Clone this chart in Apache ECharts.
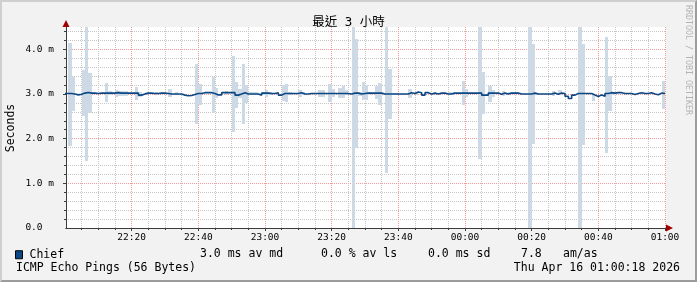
<!DOCTYPE html>
<html><head><meta charset="utf-8">
<script src="https://cdn.jsdelivr.net/npm/echarts@6/dist/echarts.min.js"></script>
<style>
html,body{margin:0;padding:0;background:#f2f2f2;}
#wrap{position:relative;width:697px;height:282px;background:#f2f2f2;}
#plotbg{position:absolute;left:66px;top:27px;width:600px;height:201px;background:#ffffff;}
#chart{position:absolute;left:0;top:0;width:697px;height:282px;}
#frame{position:absolute;left:0;top:0;width:697px;height:282px;box-sizing:border-box;border-top:2px solid #cfcfcf;border-left:2px solid #cfcfcf;border-bottom:2px solid #9c9c9c;border-right:2px solid #9c9c9c;pointer-events:none;}
</style></head><body>
<div id="wrap"><div id="plotbg"></div><div id="chart"></div><div id="frame"></div></div>
<script>
// time in minutes after 22:00
const startMin = 0.3, endMin = 180.3;
const xMajorTicks = [20, 40, 60, 80, 100, 120, 140, 160, 180];
const xMajorLabels = ['22:20', '22:40', '23:00', '23:20', '23:40', '00:00', '00:20', '00:40', '01:00'];
const xMinorTicks = [5, 10, 15, 25, 30, 35, 45, 50, 55, 65, 70, 75, 85, 90, 95, 105, 110, 115, 125, 130, 135, 145, 150, 155, 165, 170, 175];
const yMajorTicks = [0, 1, 2, 3, 4];
const yMajorLabels = ['0.0  ', '1.0 m', '2.0 m', '3.0 m', '4.0 m'];
const yMinorTicks = [0.2, 0.4, 0.6, 0.8, 1.2, 1.4, 1.6, 1.8, 2.2, 2.4, 2.6, 2.8, 3.2, 3.4, 3.6, 3.8, 4.2, 4.4];
const yMax = 4.5;

// median RTT per minute (ms), minute 0 = 22:00
const median = [
  3.01, 3.01, 3.00, 2.98, 2.995, 3.02, 3.035, 3.02, 3.02, 3.01,
  3.02, 3.02, 3.02, 3.02, 3.02, 3.03, 3.02, 3.02, 3.02, 3.02,
  3.02, 3.02, 2.975, 3.00, 3.02, 3.02, 3.01, 3.01, 3.02, 3.02,
  3.01, 3.00, 3.00, 3.00, 3.00, 2.975, 2.96, 2.965, 2.99, 3.01,
  3.01, 3.03, 3.03, 3.03, 3.01, 2.98, 2.98, 3.03, 3.03, 3.03,
  3.03, 2.975, 3.00, 3.03, 3.00, 3.00, 3.00, 3.00, 2.975, 3.02,
  3.02, 3.01, 3.01, 3.03, 2.975, 3.01, 3.01, 3.01, 3.01, 3.01,
  3.03, 3.00, 3.00, 3.01, 3.01, 3.01, 3.01, 3.01, 3.01, 3.01,
  3.01, 3.01, 3.01, 3.01, 3.01, 3.00, 3.02, 3.02, 3.00, 3.01,
  3.02, 3.02, 3.02, 3.02, 3.02, 3.00, 3.00, 3.00, 3.00, 3.00,
  3.00, 3.00, 3.00, 3.03, 3.01, 3.045, 3.03, 2.975, 3.03, 3.00,
  3.02, 3.00, 3.02, 3.02, 3.00, 3.00, 3.02, 3.02, 3.02, 3.02,
  3.02, 3.02, 3.02, 3.02, 3.02, 2.975, 2.975, 3.02, 3.02, 3.02,
  2.995, 3.02, 3.00, 3.02, 3.02, 3.02, 3.00, 3.00, 3.00, 3.00,
  3.02, 3.00, 3.00, 3.00, 3.00, 3.00, 3.02, 2.995, 3.02, 3.01,
  2.95, 2.90, 2.975, 3.01, 3.01, 3.01, 3.01, 3.01, 2.975, 2.945,
  2.98, 2.95, 3.01, 3.03, 3.02, 3.03, 3.03, 3.01, 3.01, 3.01,
  2.99, 3.01, 3.03, 3.01, 3.01, 3.03, 3.00, 2.985, 3.02, 3.01
];

// smoke: [minute, lowest ping (ms), highest ping (ms)]
const smoke = [
  [1, 1.84, 4.15], [2, 2.61, 3.39], [5, 2.50, 3.54], [6, 1.49, 4.50], [7, 2.58, 3.46],
  [12, 2.81, 3.24], [13, 2.98, 3.06], [15, 2.94, 3.10], [16, 2.96, 3.07], [17, 2.96, 3.07],
  [18, 2.96, 3.07], [21, 2.87, 3.16], [22, 2.93, 3.05], [24, 2.97, 3.05], [27, 2.97, 3.04],
  [31, 2.94, 3.11], [33, 2.97, 3.05], [39, 2.33, 3.67], [40, 2.76, 3.23], [44, 2.58, 3.39],
  [45, 2.90, 3.14], [48, 2.98, 3.06], [50, 2.16, 3.85], [51, 2.69, 3.26], [52, 2.90, 3.11],
  [53, 2.33, 3.67], [54, 2.79, 3.20], [55, 2.98, 3.05], [56, 2.98, 3.05], [57, 2.98, 3.05],
  [59, 2.98, 3.05], [60, 2.93, 3.09], [61, 2.97, 3.04], [65, 2.85, 3.20], [66, 2.82, 3.23],
  [67, 2.97, 3.05], [70, 2.94, 3.09], [71, 2.97, 3.05], [76, 2.93, 3.10], [77, 2.93, 3.10],
  [79, 2.83, 3.22], [80, 2.93, 3.12], [82, 2.90, 3.13], [83, 2.92, 3.18], [84, 2.97, 3.09],
  [86, 0.00, 4.50], [87, 1.79, 4.23], [88, 2.96, 3.05], [89, 2.87, 3.26], [90, 2.86, 3.20],
  [91, 2.98, 3.05], [93, 2.89, 3.17], [94, 2.76, 3.24], [96, 1.24, 4.50], [97, 2.45, 3.55],
  [98, 2.98, 3.03], [99, 2.98, 3.03], [103, 2.92, 3.11], [105, 2.98, 3.05], [115, 2.98, 3.04],
  [116, 2.98, 3.04], [119, 2.76, 3.28], [120, 2.93, 3.11], [124, 1.54, 4.49], [125, 2.55, 3.50],
  [127, 2.82, 3.19], [128, 2.93, 3.09], [131, 2.96, 3.07], [133, 2.99, 3.04], [134, 2.99, 3.04],
  [135, 2.99, 3.04], [139, 0.00, 4.50], [140, 1.88, 4.12], [141, 2.98, 3.03], [146, 2.96, 3.07],
  [148, 2.97, 3.08], [154, 0.00, 4.50], [155, 1.86, 4.12], [158, 2.85, 3.03], [162, 1.69, 4.28],
  [163, 2.61, 3.40], [164, 2.98, 3.05], [179, 2.67, 3.30]
];

const seriesName = 'Chief';
const statTexts = ['3.0 ms av md', '0.0 % av ls', '0.0 ms sd', '7.8', 'am/as'];
const titleText = '最近 3 小時';
const yAxisTitle = 'Seconds';
const footLeft = 'ICMP Echo Pings (56 Bytes)';
const footRight = 'Thu Apr 16 01:00:18 2026';
const watermark = 'RRDTOOL / TOBI OETIKER';

const MONO = "'DejaVu Sans Mono', 'Noto Sans CJK TC', monospace";
const AXIS_COLOR = '#3c3c3c';
const ARROW_COLOR = '#a00000';
const MAJOR_GRID = '#f29a9a';
const MINOR_GRID = '#c6c6c6';
const LINE_COLOR = '#0b4785';
const SMOKE_COLOR = '#cdd9e5';

function labelFor(ticks, labels) {
  return function (v) {
    for (let i = 0; i < ticks.length; i++) if (Math.abs(ticks[i] - v) < 1e-6) return labels[i];
    return '';
  };
}

const lineData = median.map((v, i) => [i, v]);
lineData.push([median.length, median[median.length - 1]]);

const baseX = { type: 'value', min: startMin, max: endMin, position: 'bottom' };
const baseY = { type: 'value', min: 0, max: yMax, position: 'left' };

const chart = echarts.init(document.getElementById('chart'), null, { renderer: 'canvas' });
chart.setOption({
  animation: false,
  backgroundColor: 'transparent',
  title: {
    text: titleText, left: 'center', top: 16, padding: 0,
    textStyle: { fontFamily: MONO, fontSize: 12.5, fontWeight: 'normal', color: '#000' }
  },
  legend: {
    data: [seriesName], left: 15, top: 249, padding: 0,
    icon: 'rect', itemWidth: 7, itemHeight: 8,
    itemStyle: { borderColor: '#000', borderWidth: 1 },
    textStyle: { fontFamily: MONO, fontSize: 11.5, color: '#000', padding: [0, 0, 0, 2] }
  },
  grid: { left: 66, top: 27, width: 600, height: 201, show: false },
  xAxis: [
    Object.assign({}, baseX, {
      axisLine: { show: true, onZero: false, symbol: ['none', 'triangle'], symbolSize: [7, 7], symbolOffset: [0, 3.5], lineStyle: { color: ARROW_COLOR, width: 1 } },
      axisTick: { show: false }, axisLabel: { show: false }, splitLine: { show: false }
    }),
    Object.assign({}, baseX, {
      axisLine: { show: false },
      axisTick: { show: true, customValues: xMinorTicks, length: 2, lineStyle: { color: AXIS_COLOR } },
      axisLabel: { show: false },
      splitLine: { show: true, lineStyle: { color: MINOR_GRID, width: 1, type: [1, 1] } }
    }),
    Object.assign({}, baseX, {
      axisLine: { show: true, onZero: false, lineStyle: { color: AXIS_COLOR, width: 1 } },
      axisTick: { show: true, customValues: xMajorTicks, length: 3, lineStyle: { color: AXIS_COLOR } },
      axisLabel: { show: true, customValues: xMajorTicks, formatter: labelFor(xMajorTicks, xMajorLabels), margin: 5, fontFamily: MONO, fontSize: 9.5, color: '#000' },
      splitLine: { show: true, lineStyle: { color: MAJOR_GRID, width: 1, type: [1, 1] } }
    })
  ],
  yAxis: [
    Object.assign({}, baseY, {
      axisLine: { show: true, onZero: false, symbol: ['none', 'triangle'], symbolSize: [7, 7], symbolOffset: [0, 3.5], lineStyle: { color: ARROW_COLOR, width: 1 } },
      axisTick: { show: false }, axisLabel: { show: false }, splitLine: { show: false }
    }),
    Object.assign({}, baseY, {
      axisLine: { show: false },
      axisTick: { show: true, customValues: yMinorTicks, length: 2, lineStyle: { color: AXIS_COLOR } },
      axisLabel: { show: false },
      splitLine: { show: true, lineStyle: { color: MINOR_GRID, width: 1, type: [1, 1] } }
    }),
    Object.assign({}, baseY, {
      axisLine: { show: true, onZero: false, lineStyle: { color: AXIS_COLOR, width: 1 } },
      axisTick: { show: true, customValues: [1, 2, 3, 4], length: 3, lineStyle: { color: AXIS_COLOR } },
      axisLabel: { show: true, customValues: yMajorTicks, formatter: labelFor(yMajorTicks, yMajorLabels), margin: 12, fontFamily: MONO, fontSize: 9.5, color: '#000' },
      splitLine: { show: true, lineStyle: { color: MAJOR_GRID, width: 1, type: [1, 1] } }
    })
  ],
  series: [
    {
      type: 'custom', name: 'smoke', xAxisIndex: 2, yAxisIndex: 2, clip: true, silent: true,
      data: smoke,
      renderItem: function (params, api) {
        const m = api.value(0), lo = api.value(1), hi = api.value(2);
        const p1 = api.coord([m, hi]);
        const p2 = api.coord([m + 1, lo]);
        const x1 = Math.round(p1[0]), x2 = Math.round(p2[0]);
        const y1 = Math.round(p1[1]), y2 = Math.round(p2[1]);
        const rect = echarts.graphic.clipRectByRect(
          { x: x1, y: y1, width: x2 - x1, height: y2 - y1 },
          { x: params.coordSys.x, y: params.coordSys.y, width: params.coordSys.width, height: params.coordSys.height }
        );
        return rect && { type: 'rect', shape: rect, style: { fill: SMOKE_COLOR } };
      },
      z: 2
    },
    {
      type: 'line', name: seriesName, xAxisIndex: 2, yAxisIndex: 2,
      data: lineData, step: 'end', showSymbol: false, symbol: 'none', clip: true,
      color: LINE_COLOR,
      lineStyle: { color: LINE_COLOR, width: 1.6 },
      z: 3
    }
  ],
  graphic: [
    { type: 'text', x: 11, y: 128, rotation: Math.PI / 2,
      style: { text: yAxisTitle, font: '11.5px ' + MONO, fill: '#000', textAlign: 'center', textVerticalAlign: 'middle' } },
    { type: 'text', x: 688, y: 5, rotation: -Math.PI / 2,
      style: { text: watermark, font: '8.3px ' + MONO, fill: '#b4b4b4', textAlign: 'left', textVerticalAlign: 'middle' } },
    { type: 'text', x: 200, y: 254, style: { text: statTexts[0], font: '11.5px ' + MONO, fill: '#000', textVerticalAlign: 'middle' } },
    { type: 'text', x: 321, y: 254, style: { text: statTexts[1], font: '11.5px ' + MONO, fill: '#000', textVerticalAlign: 'middle' } },
    { type: 'text', x: 428, y: 254, style: { text: statTexts[2], font: '11.5px ' + MONO, fill: '#000', textVerticalAlign: 'middle' } },
    { type: 'text', x: 521, y: 254, style: { text: statTexts[3], font: '11.5px ' + MONO, fill: '#000', textVerticalAlign: 'middle' } },
    { type: 'text', x: 563, y: 254, style: { text: statTexts[4], font: '11.5px ' + MONO, fill: '#000', textVerticalAlign: 'middle' } },
    { type: 'text', x: 16, y: 268, style: { text: footLeft, font: '11.5px ' + MONO, fill: '#000', textVerticalAlign: 'middle' } },
    { type: 'text', x: 680, y: 268, style: { text: footRight, font: '11.5px ' + MONO, fill: '#000', textAlign: 'right', textVerticalAlign: 'middle' } }
  ]
});
</script></body></html>
